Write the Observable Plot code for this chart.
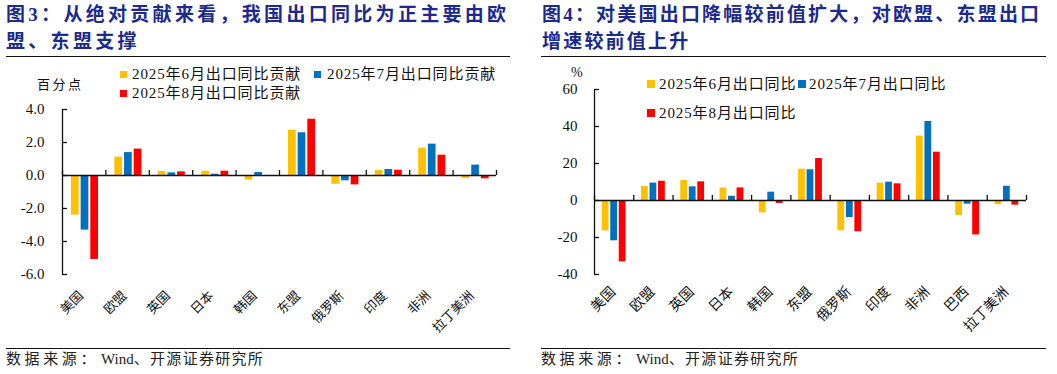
<!DOCTYPE html>
<html><head><meta charset="utf-8">
<script src="https://cdn.jsdelivr.net/npm/d3@7"></script>
<script src="https://cdn.jsdelivr.net/npm/@observablehq/plot@0.6"></script>
<style>
html,body{margin:0;padding:0;background:#fff;}
body{width:1057px;height:374px;position:relative;overflow:hidden;font-family:"Liberation Serif","Noto Sans CJK SC",serif;}
.abs{position:absolute;white-space:nowrap;}
.title{font-family:"Liberation Serif","Noto Sans CJK SC",serif;font-weight:bold;font-size:19px;letter-spacing:3.3px;line-height:27px;color:#1c2a8c;}
.rule{position:absolute;height:0;border-top:1.3px solid #111;}
.src{font-size:15px;line-height:20px;color:#222;}
.src .c1{letter-spacing:3.6px;}
.src .w{letter-spacing:0;margin-left:2px;}
.src .c2{letter-spacing:1.3px;}
.leg{font-size:15px;letter-spacing:0.9px;line-height:18px;color:#111;}
.sq{position:absolute;}
svg text{font-family:"Liberation Serif","Noto Sans CJK SC",serif;}
</style></head>
<body>
<script>
// ---- data ----
const leftCats = ["美国","欧盟","英国","日本","韩国","东盟","俄罗斯","印度","非洲","拉丁美洲"];
const leftJun = [-2.40, 1.11, 0.24, 0.26, -0.28, 2.75, -0.53, 0.30, 1.66, -0.18];
const leftJul = [-3.31, 1.39, 0.16, 0.08, 0.18, 2.59, -0.32, 0.36, 1.90, 0.63];
const leftAug = [-5.09, 1.60, 0.22, 0.26, -0.06, 3.41, -0.57, 0.32, 1.23, -0.20];
const leftSeries = ["2025年6月出口同比贡献","2025年7月出口同比贡献","2025年8月出口同比贡献"];
const leftTicks = [4, 2, 0, -2, -4, -6];

const rightCats = ["美国","欧盟","英国","日本","韩国","东盟","俄罗斯","印度","非洲","巴西","拉丁美洲"];
const rightJun = [-16.4, 7.6, 10.8, 6.7, -6.7, 16.9, -16.4, 9.4, 34.8, -8.1, -2.2];
const rightJul = [-21.8, 9.4, 7.4, 2.3, 4.5, 16.6, -9.2, 9.9, 42.7, -2.0, 7.7];
const rightAug = [-33.2, 10.4, 10.1, 6.8, -1.6, 22.7, -16.9, 9.0, 26.1, -18.6, -2.5];
const rightSeries = ["2025年6月出口同比","2025年7月出口同比","2025年8月出口同比"];
const rightTicks = [60, 40, 20, 0, -20, -40];

const colors = ["#FFC000", "#0070C0", "#FF0000"];
const sourceHtml = '<span class="c1">数据来源：</span><span class="w">Wind</span><span class="c2">、开源证券研究所</span>';

function add(html, cls, style) {
  const d = document.createElement("div");
  d.className = cls;
  d.innerHTML = html;
  Object.assign(d.style, style);
  document.body.appendChild(d);
  return d;
}

const serif = "'Liberation Serif','Noto Sans CJK SC',serif";

function chart(o) {
  const cats = o.cats, n = cats.length;
  const rows = [];
  o.values.forEach((arr, j) => arr.forEach((v, i) => rows.push({i, j, s: o.series[j], v})));
  const plotW = o.width - o.ml - o.mr;
  const plotH = o.height - o.mt - o.mb;
  const B = plotW / n;                       // px per category
  const pxU = plotH / (o.yDomain[1] - o.yDomain[0]);
  const tickUp = 5 / pxU, tickIn = 5 / B;
  const bw = o.barW / B, step = o.barStep / B;
  const off = j => (j - 1) * step + o.shift / B;
  const svg = Plot.plot({
    width: o.width, height: o.height,
    marginTop: o.mt, marginBottom: o.mb, marginLeft: o.ml, marginRight: o.mr,
    style: {fontFamily: serif, fontSize: "15px", background: "transparent", color: "#111", overflow: "visible"},
    x: {type: "linear", domain: [-0.5, n - 0.5], axis: null},
    y: {domain: o.yDomain},
    color: {domain: o.series, range: colors},
    marks: [
      Plot.rectY(rows, {x1: d => d.i + off(d.j) - bw / 2, x2: d => d.i + off(d.j) + bw / 2, y1: 0, y2: "v", fill: "s"}),
      Plot.ruleY([0], {x1: -0.5, x2: n - 0.5, stroke: "#111", strokeWidth: 1.5}),
      Plot.ruleX(d3.range(n + 1), {x: d => d - 0.5, y1: 0, y2: tickUp, stroke: "#111", strokeWidth: 1.3}),
      Plot.ruleX([-0.5], {y1: o.yDomain[0], y2: o.yDomain[1], stroke: "#111", strokeWidth: 1.3}),
      Plot.ruleY(o.ticks, {x1: -0.5, x2: -0.5 + tickIn, stroke: "#111", strokeWidth: 1.3}),
      Plot.axisY({ticks: o.ticks, tickSize: 0, tickPadding: o.tickPad, tickFormat: o.fmt, label: null, fontSize: 15, fontFamily: serif}),
      Plot.text(cats, {x: (d, i) => i, y: o.yDomain[0], text: d => d, rotate: -45, textAnchor: "end", dy: o.labDy, dx: o.labDx, fontSize: o.labFs, fontFamily: "'Noto Sans CJK SC',sans-serif", fill: "#111"})
    ]
  });
  svg.style.position = "absolute";
  svg.style.left = o.left + "px";
  svg.style.top = o.top + "px";
  svg.style.fontFamily = serif;
  document.body.appendChild(svg);
}

// ---- left panel ----
add("图3：从绝对贡献来看，我国出口同比为正主要由欧<br>盟、东盟支撑", "abs title", {left: "6px", top: "1px"});
add("", "rule", {left: "6px", top: "55.5px", width: "504px"});
add("百分点", "abs leg", {left: "37px", top: "75px", fontSize: "13px", letterSpacing: "2.5px", fontFamily: "'Noto Sans CJK SC',sans-serif"});
[[120, 70.5, 132, 65], [314, 70.5, 327, 65], [120, 89.5, 132, 84]].forEach((p, j) => {
  add("", "sq", {left: p[0] + "px", top: p[1] + "px", width: "7px", height: "7px", background: colors[j]});
  add(leftSeries[j], "abs leg", {left: p[2] + "px", top: p[3] + "px"});
});
chart({cats: leftCats, values: [leftJun, leftJul, leftAug], series: leftSeries, ticks: leftTicks,
  yDomain: [-6, 4], fmt: d => d.toFixed(1), left: 0, top: 100, width: 510, height: 245,
  mt: 9, mb: 71, ml: 62, mr: 14, barW: 7.7, barStep: 9.65, shift: 0.8, tickPad: 18, labDy: 19, labDx: -3, labFs: 13});
add("", "rule", {left: "6px", top: "347.5px", width: "504px"});
add(sourceHtml, "abs src", {left: "6px", top: "349px"});

// ---- right panel ----
add("图4：对美国出口降幅较前值扩大，对欧盟、东盟出口<br>增速较前值上升", "abs title", {left: "542px", top: "1px", letterSpacing: "2.2px"});
add("", "rule", {left: "541px", top: "56px", width: "505px"});
add("%", "abs leg", {left: "571px", top: "64px", fontSize: "14px"});
[[647, 80, 659, 75], [798, 80, 809, 75], [647, 109, 659, 104]].forEach((p, j) => {
  add("", "sq", {left: p[0] + "px", top: p[1] + "px", width: "8px", height: "8px", background: colors[j]});
  add(rightSeries[j], "abs leg", {left: p[2] + "px", top: p[3] + "px"});
});
chart({cats: rightCats, values: [rightJun, rightJul, rightAug], series: rightSeries, ticks: rightTicks,
  yDomain: [-40, 60], fmt: d => String(d), left: 528, top: 80, width: 528, height: 265,
  mt: 9, mb: 71, ml: 66, mr: 30, barW: 6.8, barStep: 8.5, shift: 0, tickPad: 17, labDy: 15, labDx: -1, labFs: 14});
add("", "rule", {left: "541px", top: "347.5px", width: "505px"});
add(sourceHtml, "abs src", {left: "541px", top: "349px"});
</script>
</body></html>
